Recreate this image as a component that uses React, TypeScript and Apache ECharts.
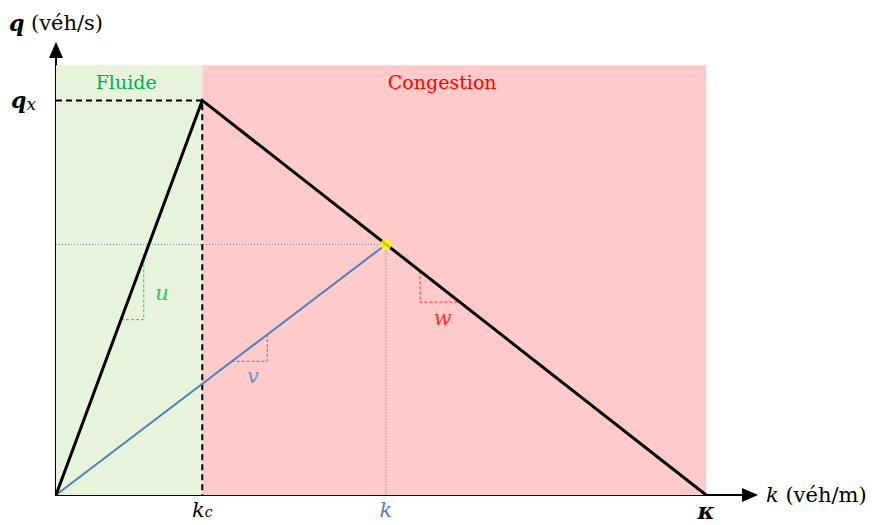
import React, { useEffect, useRef } from "react";
import * as echarts from "echarts";

// Domain values (k in véh/m-like units, q in véh/s-like units)
const K_C = 45;
const KAPPA = 200;
const Q_X = 1800;
const K_PT = 101.5;
const Q_PT = 1143;
const X_MAX = 213.5;
const Y_MAX = 2030;
const REGION_TOP = 1960;

const triangle = [[0, 0], [K_C, Q_X], [KAPPA, 0]];
const criticalDashed = [[0, Q_X], [K_C, Q_X], [K_C, 0]];
const blueLine = [[0, 0], [K_PT, Q_PT]];
const hDotted = [[0, Q_PT], [K_PT, Q_PT]];
const vDotted = [[K_PT, Q_PT], [K_PT, 0]];
const uTri = [[20, 800], [27, 800], [27, 1080]];
const vTri = [[54, 610], [65, 610], [65, 733]];
const wTri = [[112, 1020], [112, 880], [124, 880]];
const slopeNames = ["u", "v", "w"];
const slopePos = [[32.6, 920], [60.6, 542], [119, 806]];
const slopeColors = ["#00b050", "#4f81bd", "#ff0000"];
const regionNames = ["Fluide", "Congestion"];
const xTickValues = [K_C, K_PT, KAPPA];
const xTickLabels = ["{k|k}{sub|c}", "{kb|k}", "{kap|κ}"];
const yTickValues = [Q_X];
const yTickLabels = ["{q|q}{sub|x}"];

const SERIF = "DejaVu Serif";
const BLUE = "#4f81bd";

export default function App() {
  const ref = useRef<HTMLDivElement>(null);
  useEffect(() => {
    document.body.style.margin = "0";
    if (!ref.current) return;
    const chart = echarts.init(ref.current, null, { renderer: "svg" });
    const lineSeries = (data: number[][], color: string, width: number, type: any, z = 3) => ({
      type: "line",
      data,
      symbol: "none",
      showSymbol: false,
      silent: true,
      z,
      lineStyle: { color, width, type, join: "miter", cap: "butt" },
    });
    const option: any = {
      animation: false,
      tooltip: { show: false },
      textStyle: { fontFamily: SERIF },
      grid: { left: 56, right: 872 - 750, top: 50, bottom: 30, outerBoundsMode: "none", containLabel: false },
      xAxis: {
        type: "value",
        min: 0,
        max: X_MAX,
        splitLine: { show: false },
        axisTick: { show: false },
        axisLine: {
          show: true,
          symbol: ["none", "triangle"],
          symbolSize: [14, 16],
          lineStyle: { color: "#000", width: 2 },
        },
        name: "{i|k} {n|(véh/m)}",
        nameLocation: "end",
        nameGap: 16,
        nameTextStyle: {
          fontFamily: SERIF,
          fontSize: 21,
          color: "#000",
          rich: {
            i: { fontFamily: SERIF, fontStyle: "italic", fontSize: 21, color: "#000" },
            n: { fontFamily: SERIF, fontSize: 21, color: "#000" },
          },
        },
        axisLabel: {
          show: true,
          customValues: xTickValues,
          margin: 4,
          formatter: (v: number) => {
            const i = xTickValues.findIndex((t) => Math.abs(t - v) < 1e-6);
            return i >= 0 ? xTickLabels[i] : "";
          },
          fontFamily: SERIF,
          rich: {
            k: { fontFamily: SERIF, fontStyle: "italic", fontSize: 21, color: "#000" },
            kb: { fontFamily: SERIF, fontStyle: "italic", fontSize: 21, color: BLUE },
            sub: { fontFamily: SERIF, fontStyle: "italic", fontSize: 14, color: "#000", padding: [4, 0, 0, 0] },
            kap: { fontFamily: SERIF, fontStyle: "italic", fontWeight: "bold", fontSize: 23, color: "#000" },
          },
        },
      },
      yAxis: {
        type: "value",
        min: 0,
        max: Y_MAX,
        splitLine: { show: false },
        axisTick: { show: false },
        axisLine: {
          show: true,
          symbol: ["none", "triangle"],
          symbolSize: [14, 16],
          lineStyle: { color: "#000", width: 2 },
        },
        name: "{i|q} {n|(véh/s)}",
        nameLocation: "end",
        nameGap: 16,
        nameTextStyle: {
          fontFamily: SERIF,
          fontSize: 21,
          color: "#000",
          rich: {
            i: { fontFamily: SERIF, fontStyle: "italic", fontWeight: "bold", fontSize: 22, color: "#000" },
            n: { fontFamily: SERIF, fontSize: 21, color: "#000" },
          },
        },
        axisLabel: {
          show: true,
          customValues: yTickValues,
          margin: 20,
          formatter: (v: number) => {
            const i = yTickValues.findIndex((t) => Math.abs(t - v) < 1e-6);
            return i >= 0 ? yTickLabels[i] : "";
          },
          rich: {
            q: { fontFamily: SERIF, fontStyle: "italic", fontWeight: "bold", fontSize: 22, color: "#000" },
            sub: { fontFamily: SERIF, fontStyle: "italic", fontSize: 17, color: "#000", padding: [8, 0, 0, 0] },
          },
        },
      },
      series: [
        {
          ...lineSeries(triangle, "#000", 3, "solid", 5),
          markArea: {
            silent: true,
            z: 1,
            data: [
              [
                {
                  coord: [0, REGION_TOP],
                  itemStyle: { color: "#e8f3dc" },
                  label: { show: true, position: "insideTop", distance: 7, offset: [-3, 0], formatter: regionNames[0], color: "#00b050", fontFamily: SERIF, fontSize: 19 },
                },
                { coord: [K_C, 0] },
              ],
              [
                {
                  coord: [K_C, REGION_TOP],
                  itemStyle: { color: "#ffcaca" },
                  label: { show: true, position: "insideTop", distance: 7, offset: [-12, 0], formatter: regionNames[1], color: "#ff0000", fontFamily: SERIF, fontSize: 19 },
                },
                { coord: [KAPPA, 0] },
              ],
            ],
          },
        },
        lineSeries(criticalDashed, "#000", 2, [6, 4], 4),
        lineSeries(blueLine, BLUE, 2, "solid", 4),
        lineSeries(hDotted, "#6a80b8", 1, [1, 2], 3),
        lineSeries(vDotted, "#4472c4", 1, [1, 2], 3),
        lineSeries(uTri, "#3cbf5a", 1, [3, 2], 3),
        lineSeries(vTri, BLUE, 1, [3, 2], 3),
        lineSeries(wTri, "#ff3030", 1, [3, 2], 3),
        {
          type: "scatter",
          silent: true,
          z: 6,
          symbolSize: 0,
          data: slopeNames.map((n, i) => ({
            name: n,
            value: slopePos[i],
            label: {
              show: true,
              position: "inside",
              formatter: "{b}",
              color: slopeColors[i],
              fontFamily: SERIF,
              fontStyle: "italic",
              fontSize: 21,
            },
          })),
        },
        {
          type: "scatter",
          silent: true,
          z: 7,
          symbolSize: 11,
          itemStyle: { color: "#ffff00" },
          data: [[K_PT, Q_PT]],
        },
      ],
    };
    chart.setOption(option);
    return () => chart.dispose();
  }, []);
  return <div ref={ref} style={{ width: 872, height: 525 }} />;
}
